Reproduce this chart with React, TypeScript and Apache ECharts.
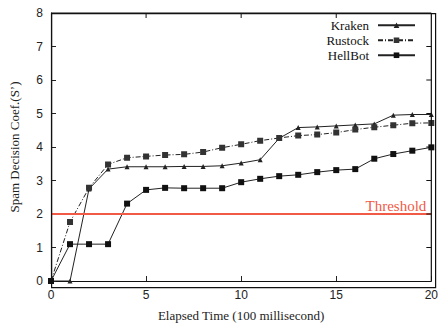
import React, { useEffect, useRef } from "react";
import * as echarts from "echarts";

const xValues = [0, 1, 2, 3, 4, 5, 6, 7, 8, 9, 10, 11, 12, 13, 14, 15, 16, 17, 18, 19, 20];
const kraken = [0, 0, 2.75, 3.34, 3.41, 3.41, 3.41, 3.42, 3.42, 3.44, 3.52, 3.62, 4.26, 4.58, 4.6, 4.63, 4.66, 4.69, 4.95, 4.97, 4.97];
const rustock = [0, 1.76, 2.78, 3.48, 3.68, 3.72, 3.76, 3.78, 3.85, 3.98, 4.08, 4.19, 4.27, 4.34, 4.37, 4.43, 4.52, 4.59, 4.65, 4.71, 4.72];
const hellbot = [0, 1.1, 1.1, 1.1, 2.31, 2.72, 2.78, 2.77, 2.77, 2.77, 2.95, 3.05, 3.13, 3.17, 3.25, 3.31, 3.34, 3.65, 3.79, 3.89, 3.99];
const thresholdValue = 2;
const xTickValues = [0, 5, 10, 15, 20];
const yTickValues = [0, 1, 2, 3, 4, 5, 6, 7, 8];
const xTicks = { min: 0, max: 20, interval: 5 };
const yTicks = { min: 0, max: 8, interval: 1 };

const SERIF = "'Liberation Serif', 'Times New Roman', serif";
const SANS = "'Liberation Sans', Arial, sans-serif";
const INK = "#222";
const RED = "#f05a46";
const TICK_LEN = 5;
const W = 441;
const H = 327;
const GRID = { left: 51, right: 6, top: 13, bottom: 40 };

const pairs = (ys: number[]) => xValues.map((x, i) => [x, ys[i]]);

export default function App() {
  const ref = useRef<HTMLDivElement>(null);
  useEffect(() => {
    if (!ref.current) return;
    const chart = echarts.init(ref.current, undefined, { renderer: "svg", width: W, height: H });
    const tick = { show: true, inside: true, length: TICK_LEN, lineStyle: { color: INK, width: 1 } };
    const axisLine = { show: true, onZero: false, lineStyle: { color: "#111", width: 1.2 } };

    // inward ticks on the top and right edges, positioned through the axes' scales
    const renderFrame = (_params: any, api: any) => {
      const tl = api.coord([xTicks.min, yTicks.max]);
      const br = api.coord([xTicks.max, yTicks.min]);
      const stroke = { stroke: "#111", lineWidth: 1, fill: "none" };
      const children: any[] = [
        { type: "line", shape: { x1: tl[0], y1: tl[1], x2: br[0], y2: tl[1] }, style: { ...stroke, lineWidth: 1.2 } },
        { type: "line", shape: { x1: br[0], y1: tl[1], x2: br[0], y2: br[1] }, style: { ...stroke, lineWidth: 1.2 } },
      ];
      xTickValues
        .filter((v) => v > xTicks.min && v < xTicks.max)
        .forEach((v) => {
          const p = api.coord([v, yTicks.max]);
          children.push({ type: "line", shape: { x1: p[0], y1: p[1], x2: p[0], y2: p[1] + TICK_LEN }, style: stroke });
        });
      yTickValues
        .filter((v) => v > yTicks.min && v < yTicks.max)
        .forEach((v) => {
          const p = api.coord([xTicks.max, v]);
          children.push({ type: "line", shape: { x1: p[0], y1: p[1], x2: p[0] - TICK_LEN, y2: p[1] }, style: stroke });
        });
      return { type: "group", children };
    };

    chart.setOption({
      animation: false,
      backgroundColor: "#fff",
      grid: { ...GRID },
      graphic: [
        {
          type: "rect",
          left: GRID.left,
          top: GRID.top,
          z: 100,
          silent: true,
          shape: { x: 0, y: 0, width: W - GRID.left - GRID.right, height: H - GRID.top - GRID.bottom },
          style: { fill: "transparent", stroke: "#111", lineWidth: 1.2 },
        },
      ],
      legend: {
        orient: "vertical",
        right: 20,
        top: 13,
        align: "right",
        itemWidth: 37,
        itemHeight: 7,
        itemGap: 0.5,
        textStyle: { fontFamily: SERIF, fontSize: 13, color: "#111", lineHeight: 14.5, padding: [0, 4, 0, 0] },
        data: ["Kraken", "Rustock", "HellBot"],
      },
      xAxis: [
        {
          type: "value",
          ...xTicks,
          name: "Elapsed Time (100 millisecond)",
          nameLocation: "middle",
          nameGap: 28,
          nameTextStyle: { fontFamily: SERIF, fontSize: 13, color: INK },
          axisLine,
          axisTick: tick,
          splitLine: { show: false },
          axisLabel: { fontFamily: SANS, fontSize: 12, color: INK, margin: 8 },
        },
      ],
      yAxis: [
        {
          type: "value",
          ...yTicks,
          name: "Spam Decision Coef.(S’)",
          nameLocation: "middle",
          nameGap: 30,
          nameTextStyle: { fontFamily: SERIF, fontSize: 13, color: INK },
          axisLine,
          axisTick: tick,
          splitLine: { show: false },
          axisLabel: { fontFamily: SANS, fontSize: 12, color: INK, margin: 8 },
        },
      ],
      series: [
        {
          name: "frame",
          type: "custom",
          data: [[xTicks.min, yTicks.min]],
          renderItem: renderFrame,
          clip: false,
          silent: true,
          z: 5,
        },
        {
          name: "Kraken",
          type: "line",
          data: pairs(kraken),
          symbol: "triangle",
          symbolSize: 5,
          itemStyle: { color: INK },
          lineStyle: { color: INK, width: 1 },
        },
        {
          name: "Rustock",
          type: "line",
          data: pairs(rustock),
          symbol: "path://M0,0 L10,0 L10,10 L0,10 Z M2,1 L5,4 L8,1 L9,2 L6,5 L9,8 L8,9 L5,6 L2,9 L1,8 L4,5 L1,2 Z",
          symbolSize: 6,
          itemStyle: { color: "#333" },
          lineStyle: { color: INK, width: 1, type: [5, 2, 1, 2] },
        },
        {
          name: "HellBot",
          type: "line",
          data: pairs(hellbot),
          symbol: "rect",
          symbolSize: 6,
          itemStyle: { color: "#111" },
          lineStyle: { color: INK, width: 1 },
          markLine: {
            silent: true,
            symbol: "none",
            data: [{ yAxis: thresholdValue }],
            lineStyle: { color: RED, width: 2, type: "solid" },
            label: {
              show: true,
              formatter: "Threshold",
              position: "insideEndTop",
              color: RED,
              fontFamily: SERIF,
              fontSize: 15,
              distance: [5, 1],
            },
          },
        },
      ],
    });
    return () => chart.dispose();
  }, []);
  return (
    <div
      ref={ref}
      style={{ position: "fixed", left: 0, top: 0, width: W, height: H, background: "#fff" }}
    />
  );
}
